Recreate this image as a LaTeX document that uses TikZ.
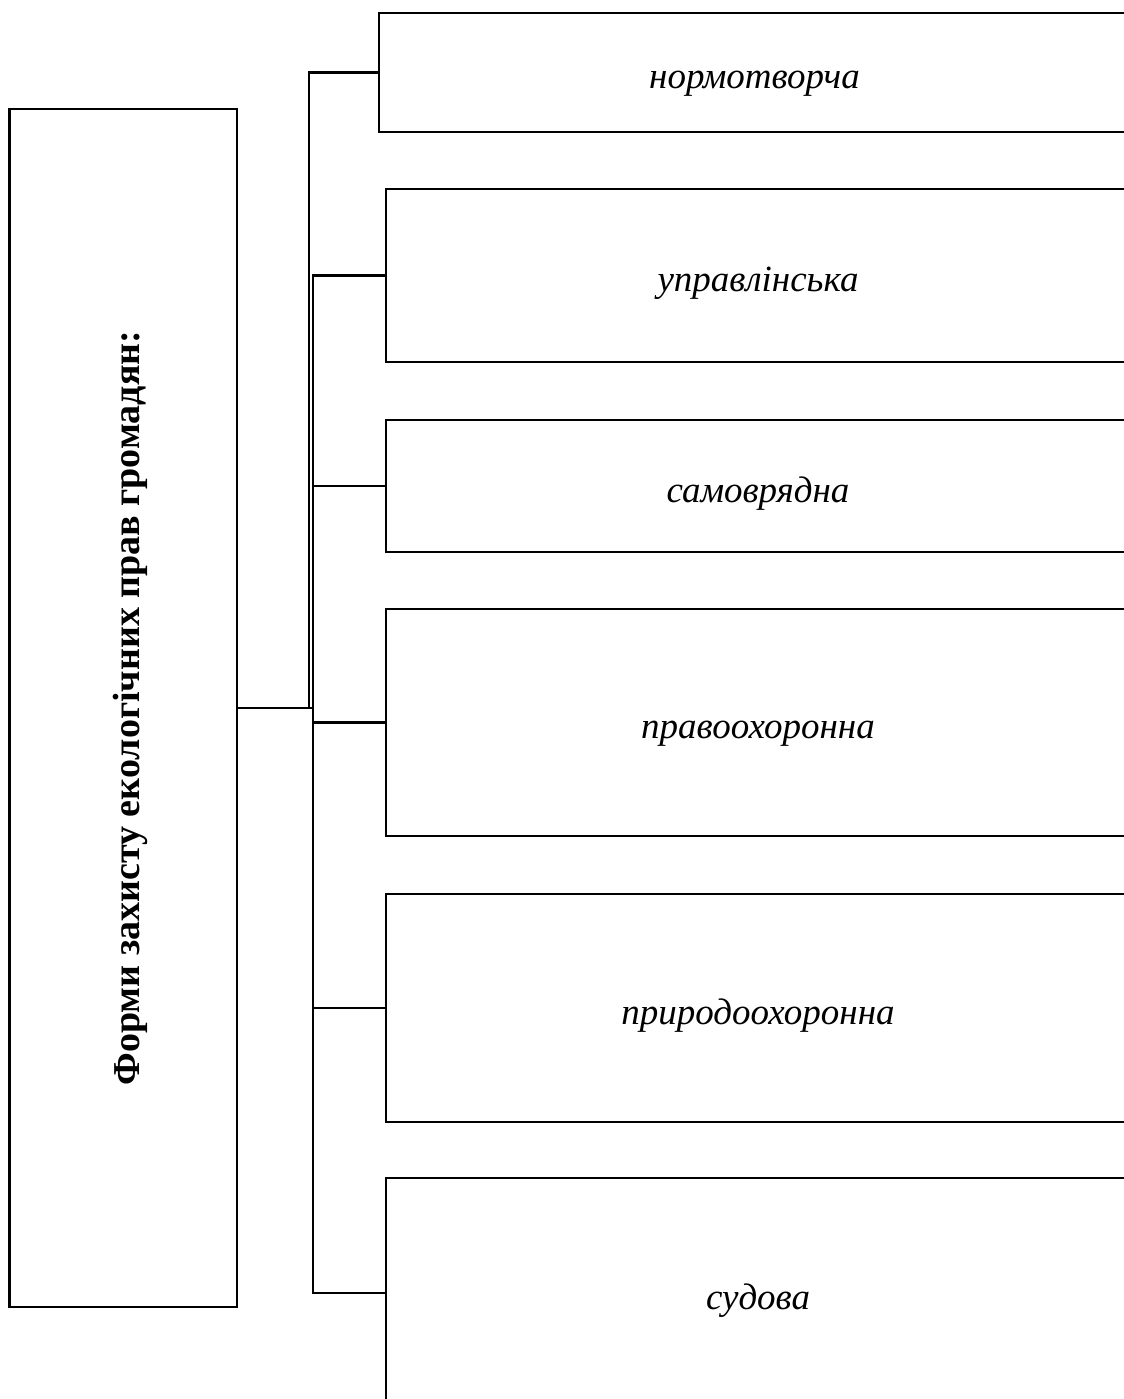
\documentclass[tikz,border=0pt]{standalone}
\usepackage{fontspec}
\setmainfont{Liberation Serif}
\begin{document}
\begin{tikzpicture}[x=0.5pt,y=-0.5pt,
  box/.style={draw, line width=1.3pt, inner sep=0pt, outer sep=0pt, anchor=center,
    text height=16pt, text depth=0pt,
    font=\fontsize{18.5}{22}\selectfont\itshape},
  mainbox/.style={draw, line width=1.3pt, inner sep=0pt, outer sep=0pt,
    minimum width=113.75pt, minimum height=599pt},
  conn/.style={line width=1.3pt}]
\useasboundingbox (0,0) rectangle (1124,1399);
\clip (0,0) rectangle (1124,1399);
\node[mainbox] (main) at (123.25,708) {};
\node[rotate=90, font=\fontsize{19}{23}\selectfont\bfseries] (maintext) at (130,708) {Форми захисту екологічних прав громадян:};
\node[box, minimum width=375.5pt, minimum height=59.5pt] (b1) at (754.5,72.5) {нормотворча};
\node[box, minimum width=372pt, minimum height=86.5pt] (b2) at (758,275.5) {управлінська};
\node[box, minimum width=372pt, minimum height=66pt] (b3) at (758,486) {самоврядна};
\node[box, minimum width=372pt, minimum height=113.5pt] (b4) at (758,722.5) {правоохоронна};
\node[box, minimum width=372pt, minimum height=114pt] (b5) at (758,1008) {природоохоронна};
\node[box, minimum width=372pt, minimum height=115pt] (b6) at (758,1293) {судова};
\coordinate (j) at (312,708);
\draw[conn] (main.east) -- (j);
\draw[conn] (309,708) |- (b1.west);
\draw[conn] (313,722.5) |- (b2.west);
\draw[conn] (313,722.5) |- (b6.west);
\draw[conn] (313,486) -- (b3.west);
\draw[conn] (313,722.5) -- (b4.west);
\draw[conn] (313,1008) -- (b5.west);
\end{tikzpicture}
\end{document}
